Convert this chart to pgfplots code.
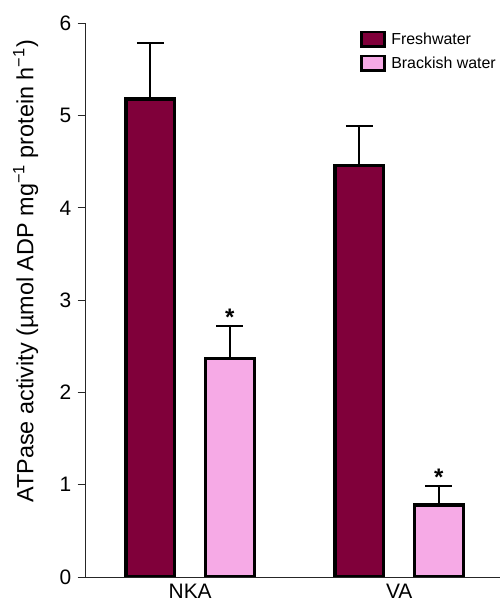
\documentclass[border=0pt]{standalone}
\usepackage{pgfplots}
\pgfplotsset{compat=1.18}
\usepackage{fontspec}
\setmainfont{Liberation Sans}
\definecolor{fresh}{RGB}{128,0,58}
\definecolor{brack}{RGB}{246,170,230}
\begin{document}
\begin{tikzpicture}
\path[use as bounding box] (-85.7bp,-29bp) rectangle (416.3bp,577bp);
\begin{axis}[
  scale only axis, width=414bp, height=553.7bp,
  xmin=-0.5, xmax=1.481, ymin=0, ymax=6,
  axis x line*=bottom, axis y line*=left,
  axis line style={line width=0.9bp, black!85},
  xtick={0,1}, xticklabels={NKA,VA}, xtick style={draw=none},
  ytick={0,1,2,3,4,5,6}, tick align=outside, major tick length=8bp,
  ytick style={line width=0.9bp, black!85},
  /pgf/number format/assume math mode=true,
  tick label style={font=\fontsize{21}{24}\selectfont},
  xticklabel style={inner sep=1bp, yshift=2bp},
  yticklabel style={xshift=-3bp},
  ylabel={ATPase activity (µmol ADP mg\textsuperscript{\char"2212 1} protein h\textsuperscript{\char"2212 1})},
  ylabel style={at={(axis description cs:-0.1266,0.552)}, anchor=base, font=\fontsize{23.5}{26}\selectfont},
  bar width=0.233,
  legend style={at={(0.662,0.987)}, anchor=north west, draw=none, fill=none,
    font=\fontsize{16}{19}\selectfont, row sep=7bp, inner sep=0pt},
  legend cell align=left,
]
\addplot[ybar, bar shift=0pt, fill=fresh, draw=black, line width=3.3bp,
  legend image code/.code={\draw[fill=fresh, draw=black, line width=2.6bp] (0bp,-7.2bp) rectangle (23.4bp,7.2bp); \path[draw=none, fill=none] (23.4bp,0bp) -- (28bp,0bp);},
  error bars/.cd, y dir=plus, y explicit, error mark=-,
  error bar style={line width=2bp, black},
  error mark options={rotate=90, line width=2bp, mark size=13.5bp, black}]
  coordinates {(-0.19,5.18) +- (0,0.61) (0.81,4.46) +- (0,0.43)};
\addlegendentry{Freshwater}
\addplot[ybar, bar shift=0pt, fill=brack, draw=black, line width=3.3bp,
  legend image code/.code={\draw[fill=brack, draw=black, line width=2.6bp] (0bp,-7.2bp) rectangle (23.4bp,7.2bp); \path[draw=none, fill=none] (23.4bp,0bp) -- (28bp,0bp);},
  error bars/.cd, y dir=plus, y explicit, error mark=-,
  error bar style={line width=2bp, black},
  error mark options={rotate=90, line width=2bp, mark size=13.5bp, black}]
  coordinates {(0.19,2.37) +- (0,0.35) (1.19,0.78) +- (0,0.21)};
\addlegendentry{Brackish water}
\addplot[draw=none, mark=none, forget plot, nodes near coords={\textbf{*}},
  every node near coord/.append style={anchor=south, inner sep=0pt, yshift=0bp,
    font=\fontsize{24}{26}\selectfont}]
  coordinates {(0.19,2.72) (1.19,0.99)};
\end{axis}
\end{tikzpicture}
\end{document}
